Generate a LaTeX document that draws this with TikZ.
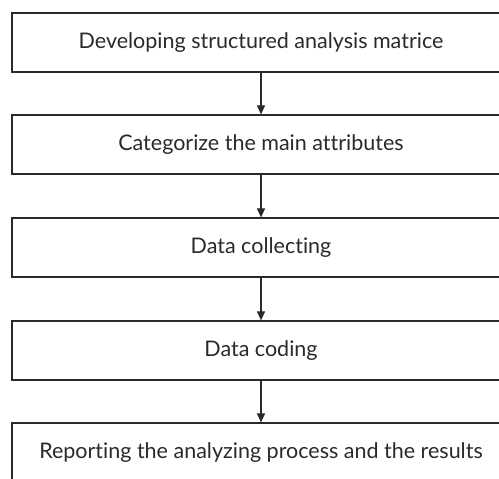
\documentclass[tikz,border=0pt]{standalone}
\usepackage{fontspec}
\setmainfont{Lato}[Ligatures={NoCommon,NoRare}]
\usetikzlibrary{arrows.meta}

\definecolor{inkgray}{HTML}{2A2A2A}

\tikzset{
  stepbox/.style={draw=inkgray, line width=1.2pt, minimum width=498pt,
    minimum height=59pt, inner sep=0pt, text=inkgray, font=\fontsize{21.5}{24}\selectfont},
  flow/.style={draw=inkgray, line width=1.1pt, -{Triangle[width=8pt,length=9pt]}}
}

\begin{document}
\begin{tikzpicture}[x=1pt, y=-1pt]
  \useasboundingbox (0, 0) rectangle (499, 479);
  \clip (0, 0) rectangle (499, 479);

  \node[stepbox] (develop) at (261, 42.5) {Developing structured analysis matrice};
  \node[stepbox] (categorize) at (261, 144.5) {Categorize the main attributes};
  \node[stepbox] (collect) at (261, 247.5) {Data collecting};
  \node[stepbox] (coding) at (261, 350.5) {Data coding};
  \node[stepbox] (report) at (261, 452.5) {Reporting the analyzing process and the results};

  \draw[flow] (develop) -- (categorize);
  \draw[flow] (categorize) -- (collect);
  \draw[flow] (collect) -- (coding);
  \draw[flow] (coding) -- (report);

\end{tikzpicture}
\end{document}
